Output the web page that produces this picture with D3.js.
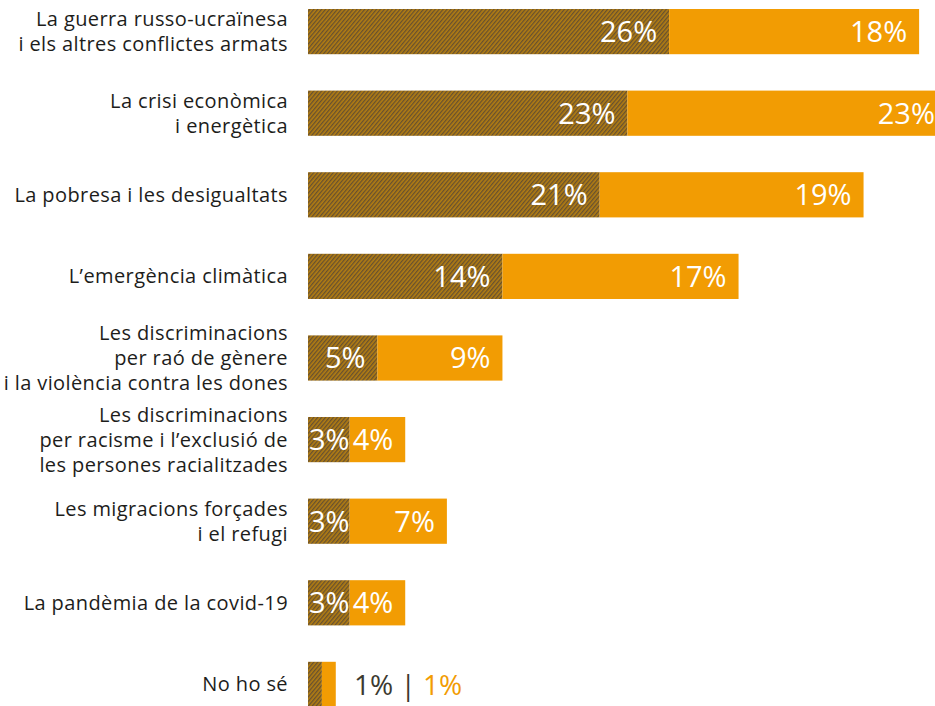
<!DOCTYPE html>
<html>
<head>
<meta charset="utf-8">
<script src="https://cdn.jsdelivr.net/npm/d3@7"></script>
<style>
  body { margin: 0; background: #fff; }
  svg { display: block; font-family: "Open Sans", Lato, sans-serif; }
</style>
</head>
<body>
<div id="chart"></div>
<script>
// categories (label lines) and the two series, in %
var categories = [
  ['La guerra russo-ucraïnesa', 'i els altres conflictes armats'],
  ['La crisi econòmica', 'i energètica'],
  ['La pobresa i les desigualtats'],
  ['L\u2019emergència climàtica'],
  ['Les discriminacions', 'per raó de gènere', 'i la violència contra les dones'],
  ['Les discriminacions', 'per racisme i l\u2019exclusió de', 'les persones racialitzades'],
  ['Les migracions forçades', 'i el refugi'],
  ['La pandèmia de la covid-19'],
  ['No ho sé']
];
var darkValues   = [26, 23, 21, 14, 5, 3, 3, 3, 1];
var orangeValues = [18, 23, 19, 17, 9, 4, 7, 4, 1];

var width = 935, height = 706;
var ORANGE = '#f29c03';

var svg = d3.select('#chart')
            .append('svg')
            .attr('width', width)
            .attr('height', height);

// hatched texture for the first series
var defs = svg.append('defs');
var pat = defs.append('pattern')
    .attr('id', 'hatch')
    .attr('patternUnits', 'userSpaceOnUse')
    .attr('width', 3)
    .attr('height', 3)
    .attr('patternTransform', 'rotate(-50)');
pat.append('rect').attr('width', 3).attr('height', 3).attr('fill', '#b27d12');
pat.append('rect').attr('width', 3).attr('height', 1.3).attr('fill', '#665030');

var rows = categories.map(function(c, i){
  return {i: i, lines: c, dark: darkValues[i], orange: orangeValues[i]};
});

var y = d3.scaleBand()
    .domain(d3.range(rows.length))
    .range([9, 707])
    .paddingInner(0.446)
    .paddingOuter(0);

var x = d3.scaleLinear()
    .domain([0, 45])
    .range([308, 933]);

var g = svg.selectAll('.row')
    .data(rows)
    .enter().append('g')
    .attr('class', 'row')
    .attr('transform', function(d){ return 'translate(0,' + y(d.i) + ')'; });

var bh = y.bandwidth();

g.append('rect')
    .attr('x', x(0))
    .attr('y', 0)
    .attr('width', function(d){ return x(d.dark) - x(0); })
    .attr('height', bh)
    .attr('fill', 'url(#hatch)');

g.append('rect')
    .attr('x', function(d){ return x(d.dark); })
    .attr('y', 0)
    .attr('width', function(d){ return x(d.dark + d.orange) - x(d.dark); })
    .attr('height', bh)
    .attr('fill', ORANGE);

// category labels
g.each(function(d){
  var n = d.lines.length;
  var lh = 25;
  var t = d3.select(this).append('text')
      .attr('text-anchor', 'end')
      .attr('font-size', 20)
      .attr('letter-spacing', 0.4)
      .attr('fill', '#1d1d1b');
  d.lines.forEach(function(line, k){
    t.append('tspan')
      .attr('x', 288)
      .attr('y', bh / 2 + (k - (n - 1) / 2) * lh + 7)
      .text(line);
  });
});

// value labels inside bars
var big = g.filter(function(d){ return d.dark + d.orange > 3; });
function placeInside(sel, start, end){
  sel.each(function(d){
    var el = d3.select(this);
    var w = this.getComputedTextLength();
    var s = start(d), e = end(d);
    var ex = Math.max(e - 12, s + w + 1);
    el.attr('x', ex);
  });
}
var tDark = big.append('text')
    .attr('text-anchor', 'end')
    .attr('y', bh / 2 + 10.5)
    .attr('font-size', 29)
    .attr('fill', '#fff')
    .text(function(d){ return d.dark + '%'; });
placeInside(tDark, function(d){ return x(0); }, function(d){ return x(d.dark); });

var tOr = big.append('text')
    .attr('text-anchor', 'end')
    .attr('y', bh / 2 + 10.5)
    .attr('font-size', 29)
    .attr('fill', '#fff')
    .text(function(d){ return d.orange + '%'; });
placeInside(tOr, function(d){ return x(d.dark); }, function(d){ return x(d.dark + d.orange); });

// small bar: values written outside
var small = g.filter(function(d){ return d.dark + d.orange <= 3; });
var tOut = small.append('text')
    .attr('x', 354)
    .attr('y', bh / 2 + 10.5)
    .attr('font-size', 28);
tOut.append('tspan').attr('fill', '#3c3a30').text(function(d){ return d.dark + '% | '; });
tOut.append('tspan').attr('fill', ORANGE).text(function(d){ return d.orange + '%'; });
</script>
</body>
</html>
